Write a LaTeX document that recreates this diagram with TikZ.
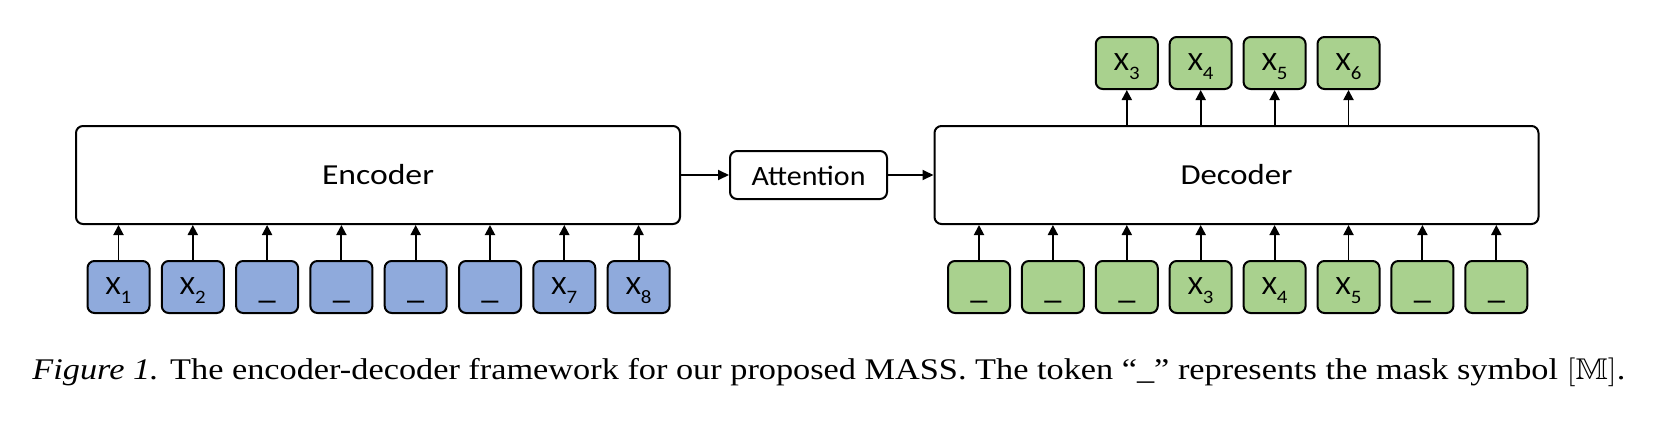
\documentclass[tikz,border=0pt]{standalone}
\usepackage{fontspec}
\usepackage{amssymb}
\usetikzlibrary{arrows.meta}
\newfontfamily\diag{Carlito}
\setmainfont{Liberation Serif}
\definecolor{tokblue}{HTML}{8FAADC}
\definecolor{tokgreen}{HTML}{A9D18E}
\newcommand{\tok}[1]{\scalebox{1.1}[1]{X\raisebox{-0.36em}{\fontsize{9.5}{10}\selectfont #1}}}
\newcommand{\msk}{\raisebox{-0.16em}{\scalebox{1.3}[1.3]{\_}}}
\begin{document}
\begin{tikzpicture}[x=0.5pt,y=-0.5pt,
  bigbox/.style={draw=black,line width=1pt,rounded corners=3.5pt,fill=white,
    minimum width=302pt,minimum height=49pt,inner sep=0pt,
    font=\diag\fontsize{14.5}{16}\selectfont,text height=9pt,text depth=0pt},
  attbox/.style={draw=black,line width=1pt,rounded corners=3.5pt,fill=white,
    minimum width=78.5pt,minimum height=24pt,inner sep=0pt,
    font=\diag\fontsize{14}{16}\selectfont,text height=10pt,text depth=0pt},
  tokbox/.style={draw=black,line width=1pt,rounded corners=3.5pt,
    minimum width=31pt,minimum height=26pt,inner sep=0pt,
    font=\diag\fontsize{13.2}{15}\selectfont,text height=7pt,text depth=0pt},
  enc/.style={tokbox,fill=tokblue},
  dec/.style={tokbox,fill=tokgreen},
  arr/.style={line width=0.95pt,-{Triangle[length=5pt,width=5pt]}},
  harr/.style={line width=0.95pt,-{Triangle[length=5.5pt,width=5pt]}},
]
\useasboundingbox (0,0) rectangle (1656,428);

\node[bigbox] (encoder) at (378,175) {\resizebox{56pt}{\height}{Encoder}};
\node[attbox] (attention) at (808.5,175) {\resizebox{57pt}{\height}{Attention}};
\node[bigbox] (decoder) at (1236.5,175) {\resizebox{56pt}{\height}{Decoder}};

% encoder inputs
\foreach \i/\lab in {0/\tok{1},1/\tok{2},2/\msk,3/\msk,4/\msk,5/\msk,6/\tok{7},7/\tok{8}}{
  \node[enc] (e\i) at ({118.5+74.3*\i},287) {\lab};
  \draw[arr] (e\i.north) -- (e\i.north |- encoder.south);
}
% decoder inputs
\foreach \i/\lab in {0/\msk,1/\msk,2/\msk,3/\tok{3},4/\tok{4},5/\tok{5},6/\msk,7/\msk}{
  \node[dec] (d\i) at ({979+73.9*\i},287) {\lab};
  \draw[arr] (d\i.north) -- (d\i.north |- decoder.south);
}
% decoder outputs
\foreach \i/\lab in {2/\tok{3},3/\tok{4},4/\tok{5},5/\tok{6}}{
  \node[dec] (o\i) at ({979+73.9*\i},63) {\lab};
  \draw[arr] (o\i.south |- decoder.north) -- (o\i.south);
}

\draw[harr] (encoder.east) -- (attention.west);
\draw[harr] (attention.east) -- (decoder.west);

\node[anchor=base west,inner sep=0pt,font=\fontsize{15}{16}\selectfont] (caption) at (32,379)
  {\resizebox{796.5pt}{\height}{\textit{Figure 1.} The encoder-decoder framework for our proposed MASS. The token ``\textunderscore'' represents the mask symbol $[\mathbb{M}]$.}};
\end{tikzpicture}
\end{document}
